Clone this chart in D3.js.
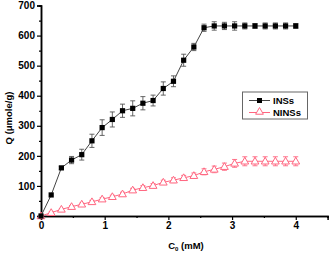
<!DOCTYPE html>
<html><head><meta charset="utf-8">
<script src="https://cdn.jsdelivr.net/npm/d3@7"></script>
<style>body{margin:0;background:#fff}svg{display:block}text{font-family:"Liberation Sans",Arial,sans-serif;font-weight:bold}</style>
</head><body><svg id="c" width="330" height="255"></svg>
<script>
const xVals = [0,0.16,0.32,0.48,0.64,0.8,0.96,1.12,1.28,1.44,1.6,1.76,1.92,2.08,2.24,2.4,2.56,2.72,2.88,3.04,3.2,3.36,3.52,3.68,3.84,4.0];
const insQ = [0,70,160,186,204,250,294,321,350,358,375,384,424,448,518,562,626,632,632,632,632,632,632,632,632,632];
const insErr = [0,0,5,12,18,22,26,25,22,25,22,18,22,18,20,12,12,14,12,14,10,8,10,10,10,8];
const ninsQ = [0,11,22,31,39,47,56,64,73,86,94,101,112,119,127,134,147,155,164,175,182,182,182,182,182,182];
const ninsErr = [0,3,3,4,4,5,5,5,6,6,7,7,7,8,8,9,10,11,12,13,15,15,15,15,15,15];
const xTicks = [0,1,2,3,4];
const yTicks = [0,100,200,300,400,500,600,700];
const seriesNames = ["INSs","NINSs"];

const svg = d3.select("#c");
const x = d3.scaleLinear().domain([0,4.5]).range([41,327.6]);
const y = d3.scaleLinear().domain([0,700]).range([216,5.5]);

const xAxis = d3.axisBottom(x).tickValues(xTicks).tickFormat(d3.format("d")).tickSize(4).tickPadding(2);
const xMinor = d3.axisBottom(x).tickValues(d3.range(0.5,4.51,1)).tickFormat("").tickSize(2);
const yAxis = d3.axisLeft(y).tickValues(yTicks).tickSize(4).tickPadding(2);
const yMinor = d3.axisLeft(y).tickValues(d3.range(50,700,100)).tickFormat("").tickSize(2);

function style(g){
  g.select(".domain").attr("stroke","#000").attr("stroke-width",1.5);
  g.selectAll(".tick line").attr("stroke","#000").attr("stroke-width",1.2);
  g.selectAll(".tick text").attr("fill","#000").style("font-size","10px").style("font-weight","bold");
}
svg.append("g").attr("transform","translate(0,216)").call(xMinor).call(style);
svg.append("g").attr("transform","translate(0,216)").call(xAxis).call(style);
svg.append("g").attr("transform","translate(41,0)").call(yMinor).call(style);
svg.append("g").attr("transform","translate(41,0)").call(yAxis).call(style);

const xt = svg.append("text").attr("x",186).attr("y",248.5).attr("text-anchor","middle").style("font-size","9.5px").attr("fill","#000");
xt.append("tspan").text("C");
xt.append("tspan").attr("dy",2).style("font-size","6px").text("0");
xt.append("tspan").attr("dy",-2).text(" (mM)");
svg.append("text").attr("transform","translate(12,118) rotate(-90)").attr("text-anchor","middle").style("font-size","9.5px").attr("fill","#000").text("Q (\u03bcmole/g)");

const insData = xVals.map((v,i)=>({x:v,q:insQ[i],e:insErr[i]}));
const ninsData = xVals.map((v,i)=>({x:v,q:ninsQ[i],e:ninsErr[i]}));
const line = d3.line().x(d=>x(d.x)).y(d=>y(d.q));

function errBars(data,color){
  const g = svg.append("g").attr("stroke",color).attr("stroke-width",0.9);
  data.filter(d=>d.e>0).forEach(d=>{
    const cx=x(d.x), y1=y(d.q+d.e), y2=y(d.q-d.e);
    g.append("line").attr("x1",cx).attr("x2",cx).attr("y1",y1).attr("y2",y2);
    g.append("line").attr("x1",cx-2.5).attr("x2",cx+2.5).attr("y1",y1).attr("y2",y1);
    g.append("line").attr("x1",cx-2.5).attr("x2",cx+2.5).attr("y1",y2).attr("y2",y2);
  });
}
const pink = "#ff6680";
svg.append("path").datum(ninsData).attr("d",line).attr("fill","none").attr("stroke",pink).attr("stroke-width",1);
errBars(ninsData,pink);
const tri = d3.symbol().type(d3.symbolTriangle).size(26);
svg.append("g").selectAll("path").data(ninsData).join("path")
  .attr("d",tri).attr("transform",d=>`translate(${x(d.x)},${y(d.q)+0.5})`)
  .attr("fill","#fff").attr("stroke",pink).attr("stroke-width",1);
svg.append("path").datum(insData).attr("d",line).attr("fill","none").attr("stroke","#444").attr("stroke-width",1);
errBars(insData,"#555");
svg.append("g").selectAll("rect").data(insData).join("rect")
  .attr("x",d=>x(d.x)-2.6).attr("y",d=>y(d.q)-2.6).attr("width",5.2).attr("height",5.2).attr("fill","#000");

const lg = svg.append("g");
lg.append("rect").attr("x",242.5).attr("y",92).attr("width",65).attr("height",27).attr("fill","#fff").attr("stroke","#666").attr("stroke-width",1);
lg.append("line").attr("x1",249).attr("x2",270).attr("y1",100.5).attr("y2",100.5).attr("stroke","#444");
lg.append("rect").attr("x",257).attr("y",98).attr("width",5).attr("height",5).attr("fill","#000");
lg.append("line").attr("x1",249).attr("x2",270).attr("y1",112.5).attr("y2",112.5).attr("stroke",pink);
lg.append("path").attr("d",tri).attr("transform","translate(259.5,112)").attr("fill","#fff").attr("stroke",pink);
lg.append("text").attr("x",273).attr("y",104).style("font-size","9.5px").attr("fill","#000").text(seriesNames[0]);
lg.append("text").attr("x",273).attr("y",116).style("font-size","9.5px").attr("fill","#000").text(seriesNames[1]);
</script></body></html>
